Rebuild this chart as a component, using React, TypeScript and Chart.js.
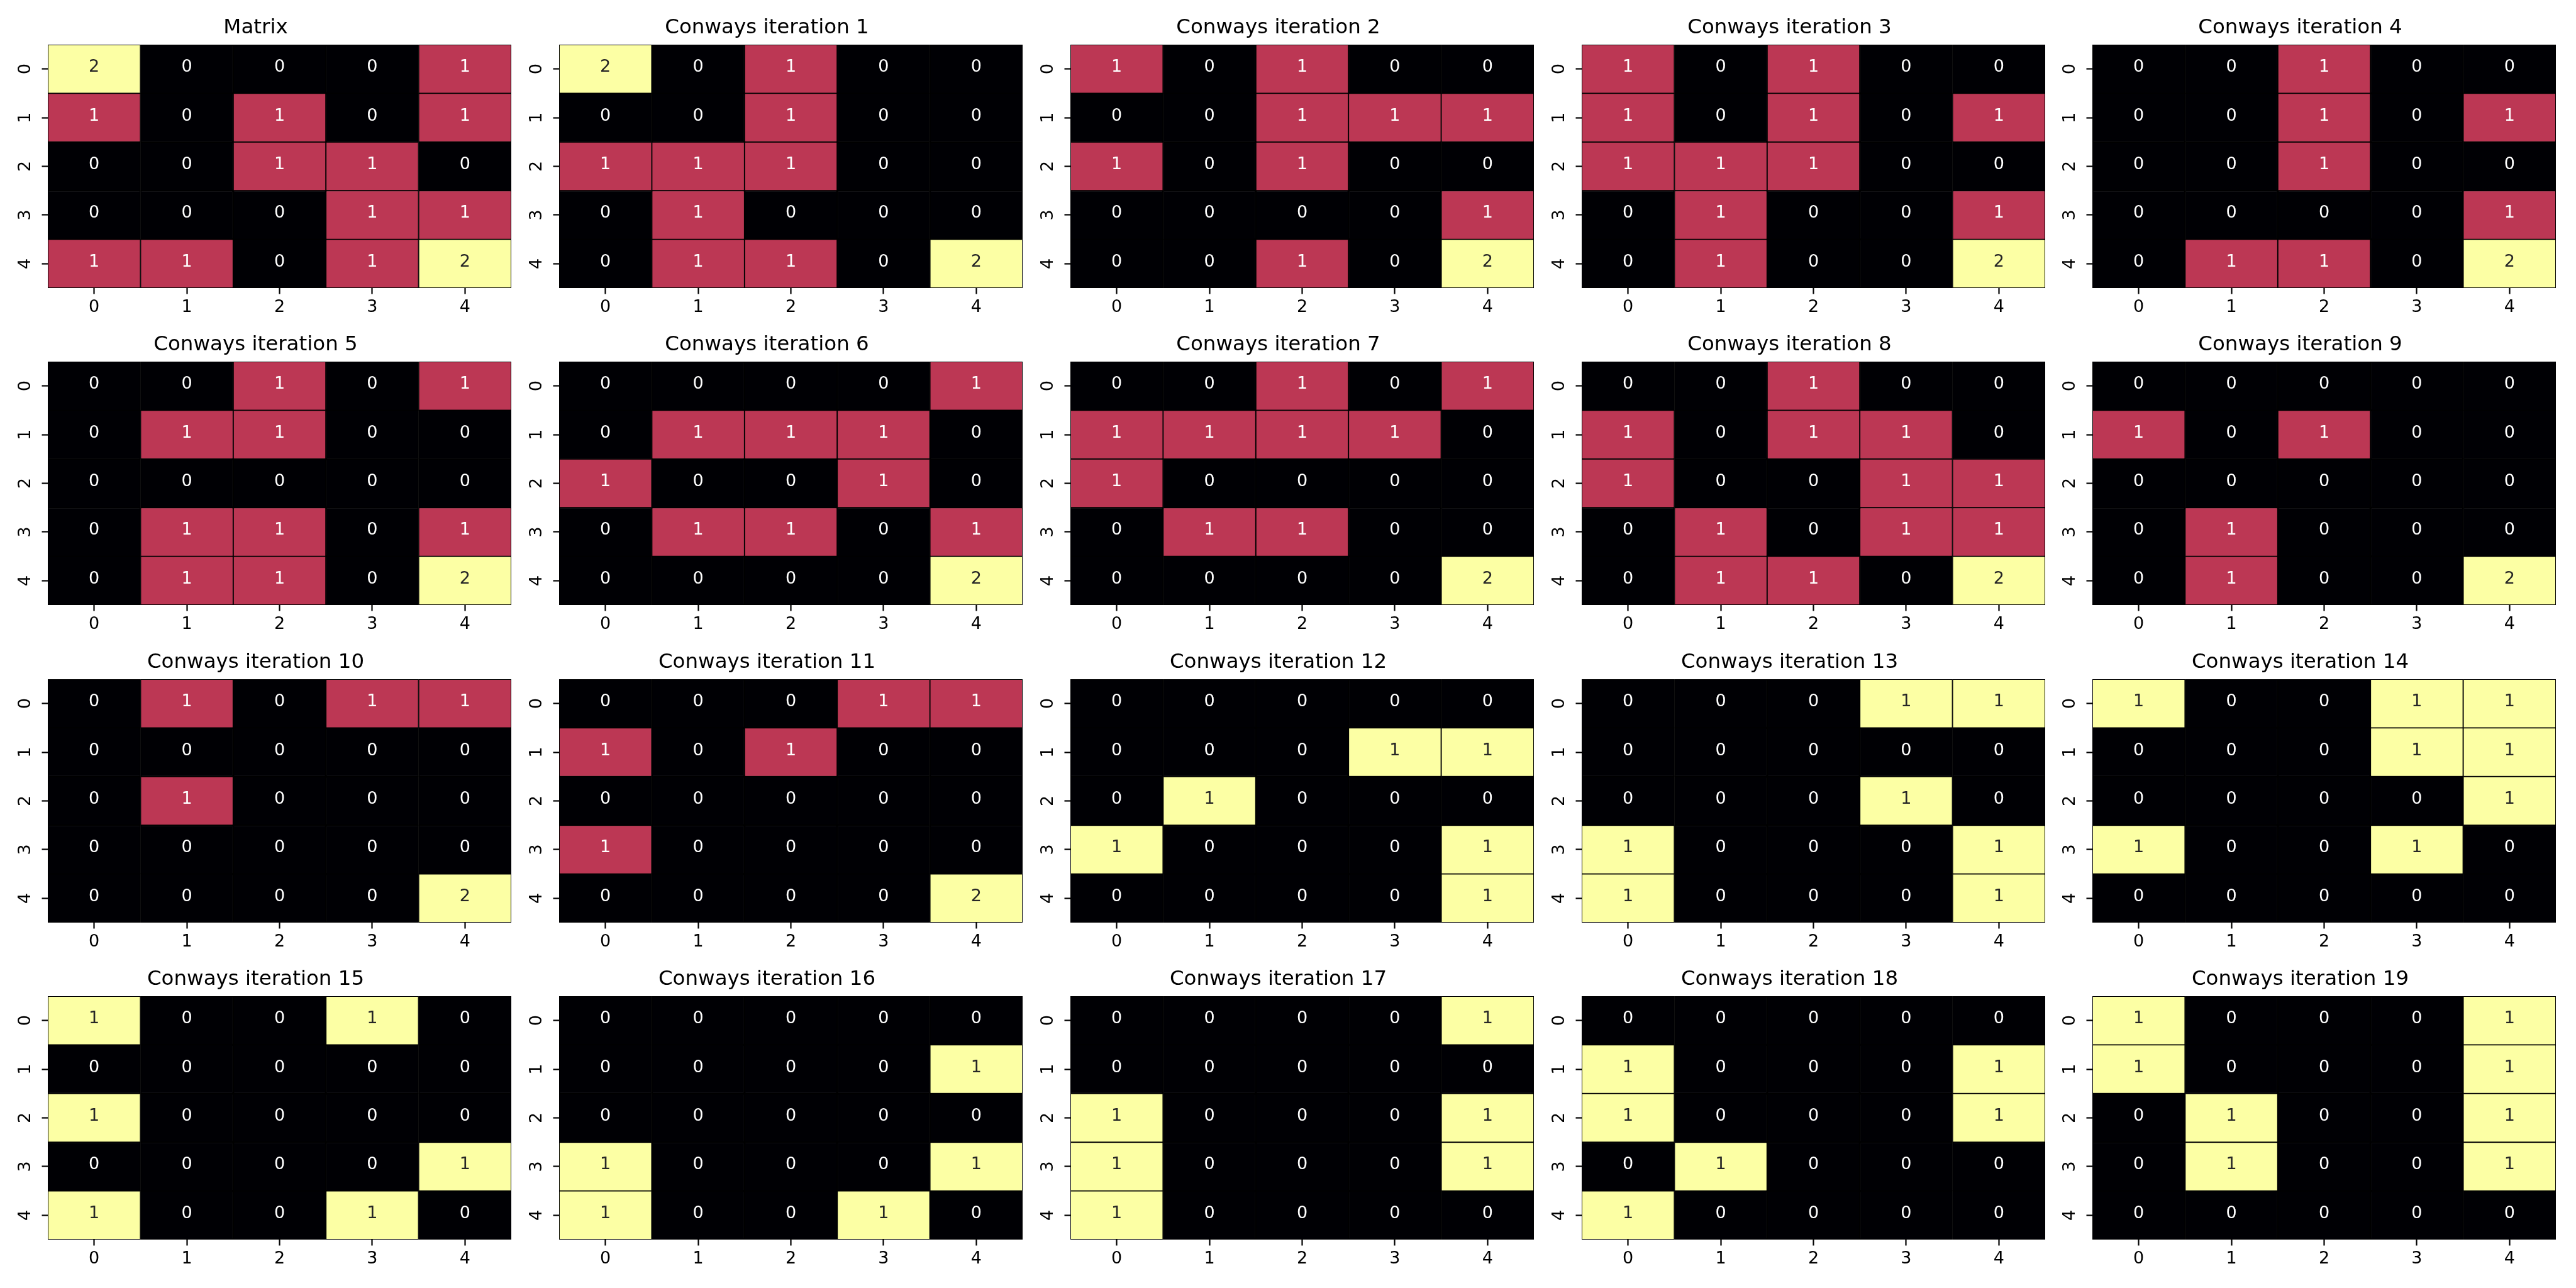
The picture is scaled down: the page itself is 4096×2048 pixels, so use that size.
import React, { useEffect, useRef } from 'react';
import { Chart, registerables } from 'chart.js';

Chart.register(...registerables);

// ---- data ----
const tickLabels = ['0', '1', '2', '3', '4'];

const titles = [
  'Matrix',
  'Conways iteration 1',
  'Conways iteration 2',
  'Conways iteration 3',
  'Conways iteration 4',
  'Conways iteration 5',
  'Conways iteration 6',
  'Conways iteration 7',
  'Conways iteration 8',
  'Conways iteration 9',
  'Conways iteration 10',
  'Conways iteration 11',
  'Conways iteration 12',
  'Conways iteration 13',
  'Conways iteration 14',
  'Conways iteration 15',
  'Conways iteration 16',
  'Conways iteration 17',
  'Conways iteration 18',
  'Conways iteration 19',
];

const matrix0 = [[2, 0, 0, 0, 1], [1, 0, 1, 0, 1], [0, 0, 1, 1, 0], [0, 0, 0, 1, 1], [1, 1, 0, 1, 2]];
const iter1 = [[2, 0, 1, 0, 0], [0, 0, 1, 0, 0], [1, 1, 1, 0, 0], [0, 1, 0, 0, 0], [0, 1, 1, 0, 2]];
const iter2 = [[1, 0, 1, 0, 0], [0, 0, 1, 1, 1], [1, 0, 1, 0, 0], [0, 0, 0, 0, 1], [0, 0, 1, 0, 2]];
const iter3 = [[1, 0, 1, 0, 0], [1, 0, 1, 0, 1], [1, 1, 1, 0, 0], [0, 1, 0, 0, 1], [0, 1, 0, 0, 2]];
const iter4 = [[0, 0, 1, 0, 0], [0, 0, 1, 0, 1], [0, 0, 1, 0, 0], [0, 0, 0, 0, 1], [0, 1, 1, 0, 2]];
const iter5 = [[0, 0, 1, 0, 1], [0, 1, 1, 0, 0], [0, 0, 0, 0, 0], [0, 1, 1, 0, 1], [0, 1, 1, 0, 2]];
const iter6 = [[0, 0, 0, 0, 1], [0, 1, 1, 1, 0], [1, 0, 0, 1, 0], [0, 1, 1, 0, 1], [0, 0, 0, 0, 2]];
const iter7 = [[0, 0, 1, 0, 1], [1, 1, 1, 1, 0], [1, 0, 0, 0, 0], [0, 1, 1, 0, 0], [0, 0, 0, 0, 2]];
const iter8 = [[0, 0, 1, 0, 0], [1, 0, 1, 1, 0], [1, 0, 0, 1, 1], [0, 1, 0, 1, 1], [0, 1, 1, 0, 2]];
const iter9 = [[0, 0, 0, 0, 0], [1, 0, 1, 0, 0], [0, 0, 0, 0, 0], [0, 1, 0, 0, 0], [0, 1, 0, 0, 2]];
const iter10 = [[0, 1, 0, 1, 1], [0, 0, 0, 0, 0], [0, 1, 0, 0, 0], [0, 0, 0, 0, 0], [0, 0, 0, 0, 2]];
const iter11 = [[0, 0, 0, 1, 1], [1, 0, 1, 0, 0], [0, 0, 0, 0, 0], [1, 0, 0, 0, 0], [0, 0, 0, 0, 2]];
const iter12 = [[0, 0, 0, 0, 0], [0, 0, 0, 1, 1], [0, 1, 0, 0, 0], [1, 0, 0, 0, 1], [0, 0, 0, 0, 1]];
const iter13 = [[0, 0, 0, 1, 1], [0, 0, 0, 0, 0], [0, 0, 0, 1, 0], [1, 0, 0, 0, 1], [1, 0, 0, 0, 1]];
const iter14 = [[1, 0, 0, 1, 1], [0, 0, 0, 1, 1], [0, 0, 0, 0, 1], [1, 0, 0, 1, 0], [0, 0, 0, 0, 0]];
const iter15 = [[1, 0, 0, 1, 0], [0, 0, 0, 0, 0], [1, 0, 0, 0, 0], [0, 0, 0, 0, 1], [1, 0, 0, 1, 0]];
const iter16 = [[0, 0, 0, 0, 0], [0, 0, 0, 0, 1], [0, 0, 0, 0, 0], [1, 0, 0, 0, 1], [1, 0, 0, 1, 0]];
const iter17 = [[0, 0, 0, 0, 1], [0, 0, 0, 0, 0], [1, 0, 0, 0, 1], [1, 0, 0, 0, 1], [1, 0, 0, 0, 0]];
const iter18 = [[0, 0, 0, 0, 0], [1, 0, 0, 0, 1], [1, 0, 0, 0, 1], [0, 1, 0, 0, 0], [1, 0, 0, 0, 0]];
const iter19 = [[1, 0, 0, 0, 1], [1, 0, 0, 0, 1], [0, 1, 0, 0, 1], [0, 1, 0, 0, 1], [0, 0, 0, 0, 0]];

const grids = [
  matrix0, iter1, iter2, iter3, iter4,
  iter5, iter6, iter7, iter8, iter9,
  iter10, iter11, iter12, iter13, iter14,
  iter15, iter16, iter17, iter18, iter19,
];

// ---- style / layout ----
const FONT = '"DejaVu Sans", "Liberation Sans", sans-serif';
const S = 0.65;
const PLOT_W = 1134 * S;
const PLOT_H = 596 * S;
const COL0 = 116.7 * S;
const COL_STEP = 1250.6 * S;
const ROW0 = 108.5 * S;
const ROW_STEP = 776.3 * S;
const AXIS_W = 76;
const TOP_H = 71;
const RIGHT_PAD = 20;
const BOTTOM_H = 50;
const CANVAS_W = AXIS_W + Math.round(PLOT_W) + RIGHT_PAD;
const CANVAS_H = TOP_H + Math.round(PLOT_H) + BOTTOM_H;

// inferno colormap key colours at 0, 0.5 and 1
function inferno(t: number): string {
  if (t <= 0.25) return '#000004';
  if (t < 0.75) return '#bc3754';
  return '#fcffa4';
}
function textColorFor(t: number): string {
  return t >= 0.75 ? '#262626' : '#ffffff';
}

const annotPlugin = {
  id: 'annot',
  afterDatasetsDraw(chart: any) {
    const ctx = chart.ctx;
    ctx.save();
    ctx.font = `${27}px ${FONT}`;
    ctx.textAlign = 'center';
    ctx.textBaseline = 'middle';
    chart.data.datasets.forEach((ds: any, r: number) => {
      const meta = chart.getDatasetMeta(r);
      meta.data.forEach((bar: any, c: number) => {
        const p = bar.getProps(['x', 'y', 'base'], true);
        ctx.fillStyle = ds.textColors[c];
        ctx.fillText(String(ds.values[c]), p.x, (p.y + p.base) / 2 - 2.6);
      });
    });
    ctx.restore();
  },
};

function Heatmap({ title, grid, left, top }: { title: string; grid: number[][]; left: number; top: number }) {
  const ref = useRef<HTMLCanvasElement>(null);
  useEffect(() => {
    const flat = grid.flat();
    const vmin = Math.min(...flat);
    const vmax = Math.max(...flat);
    const norm = (v: number) => (vmax === vmin ? 0 : (v - vmin) / (vmax - vmin));
    const datasets = grid.map((row, r) => ({
      data: row.map(() => [r - 0.5, r + 0.5]),
      backgroundColor: row.map((v) => inferno(norm(v))),
      borderColor: '#000000',
      borderWidth: 1.3,
      borderSkipped: false,
      grouped: false,
      barPercentage: 1,
      categoryPercentage: 1,
      values: row,
      textColors: row.map((v) => textColorFor(norm(v))),
    }));
    const tickFont = { family: FONT, size: 27, weight: 'normal' as const };
    const gridOpts = {
      display: true,
      drawOnChartArea: false,
      offset: false,
      tickLength: 9.5,
      tickWidth: 2.2,
      tickColor: '#000000',
    };
    const chart = new Chart(ref.current as HTMLCanvasElement, {
      type: 'bar',
      data: { labels: tickLabels, datasets: datasets as any },
      options: {
        responsive: false,
        animation: false,
        devicePixelRatio: 1,
        layout: { padding: { top: 25, left: 0, right: RIGHT_PAD, bottom: 0 } },
        plugins: {
          legend: { display: false },
          tooltip: { enabled: false },
          title: {
            display: true,
            text: title,
            color: '#000000',
            font: { family: FONT, size: 32.5, weight: 'normal', lineHeight: 1.2 },
            padding: { top: 0, bottom: 7 },
          },
        },
        scales: {
          x: {
            type: 'category',
            offset: true,
            grid: gridOpts as any,
            border: { display: false },
            ticks: {
              color: '#000000',
              font: tickFont,
              padding: 5,
              minRotation: 0,
              maxRotation: 0,
              autoSkip: false,
            },
            afterFit: (s: any) => {
              s.height = BOTTOM_H;
            },
          },
          y: {
            type: 'linear',
            reverse: true,
            min: -0.5,
            max: 4.5,
            afterBuildTicks: (s: any) => {
              s.ticks = tickLabels.map((_, i) => ({ value: i }));
            },
            grid: gridOpts as any,
            border: { display: false },
            ticks: {
              color: '#000000',
              font: tickFont,
              padding: 16.8,
              minRotation: 90,
              maxRotation: 90,
              crossAlign: 'center',
              autoSkip: false,
              callback: (v: any) => tickLabels[v] ?? '',
            },
            afterFit: (s: any) => {
              s.width = AXIS_W;
            },
          },
        },
      } as any,
      plugins: [annotPlugin],
    });
    return () => chart.destroy();
  }, [grid, title]);
  return (
    <canvas
      ref={ref}
      width={CANVAS_W}
      height={CANVAS_H}
      style={{ position: 'absolute', left, top, width: CANVAS_W, height: CANVAS_H }}
    />
  );
}

export default function App() {
  return (
    <div style={{ position: 'absolute', left: 0, top: 0, width: 4096, height: 2048, background: '#ffffff', overflow: 'hidden' }}>
      {grids.map((g, i) => {
        const col = i % 5;
        const row = Math.floor(i / 5);
        const left = Math.round(COL0 + col * COL_STEP) - AXIS_W;
        const top = Math.round(ROW0 + row * ROW_STEP) - TOP_H;
        return <Heatmap key={i} title={titles[i]} grid={g} left={left} top={top} />;
      })}
    </div>
  );
}
